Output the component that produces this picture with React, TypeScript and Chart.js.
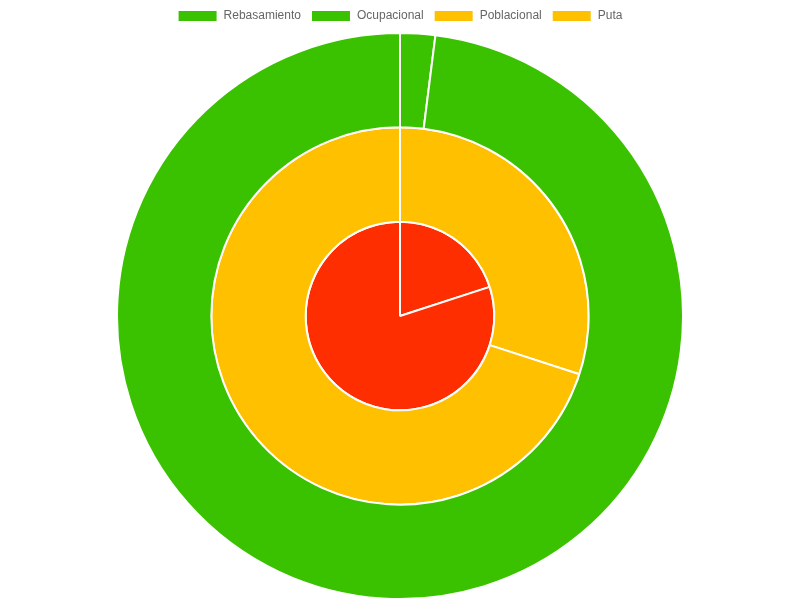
import React, { useEffect, useRef } from "react";
import { Chart, registerables } from "chart.js";

Chart.register(...registerables);

const labels = ["Rebasamiento", "Ocupacional", "Poblacional", "Puta"];
const outerValues = [2, 98];
const middleValues = [30, 70];
const innerValues = [20, 80];

const GREEN = "rgb(58,194,0)";
const YELLOW = "rgb(255,192,0)";
const RED = "rgb(255,46,0)";
const legendColors = [GREEN, GREEN, YELLOW, YELLOW];

export default function App() {
  const ref = useRef<HTMLCanvasElement | null>(null);
  useEffect(() => {
    document.body.style.margin = "0";
    const chart = new Chart(ref.current!, {
      type: "pie",
      data: {
        labels,
        datasets: [
          { data: outerValues, backgroundColor: [GREEN, GREEN], borderColor: "#fff", borderWidth: 2 },
          { data: middleValues, backgroundColor: [YELLOW, YELLOW], borderColor: "#fff", borderWidth: 2 },
          { data: innerValues, backgroundColor: [RED, RED], borderColor: "#fff", borderWidth: 2 },
        ],
      },
      options: {
        responsive: false,
        animation: false,
        plugins: {
          legend: {
            position: "top",
            labels: {
              color: "#666",
              font: { size: 12, family: "'Helvetica Neue', Helvetica, Arial, sans-serif" },
              boxWidth: 40,
              boxHeight: 12,
              generateLabels: () =>
                labels.map((text, i) => ({
                  text,
                  fillStyle: legendColors[i],
                  strokeStyle: "#fff",
                  lineWidth: 2,
                  fontColor: "#666",
                  hidden: false,
                  index: i,
                })),
            },
          },
          tooltip: { enabled: false },
        },
      },
    });
    return () => chart.destroy();
  }, []);
  return (
    <div style={{ width: 800, height: 600 }}>
      <canvas ref={ref} width={800} height={600} style={{ display: "block" }} />
    </div>
  );
}
